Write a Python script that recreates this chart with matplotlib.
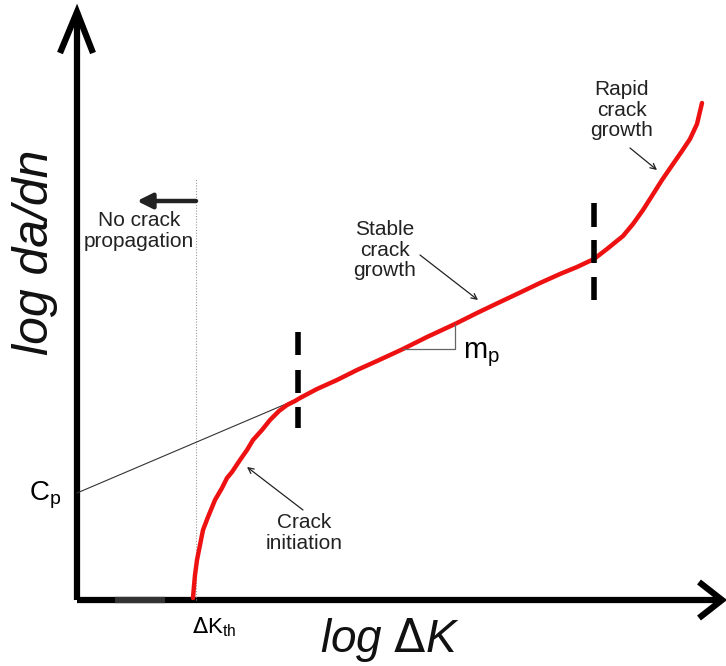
# Paris-law crack growth schematic (log da/dn vs log dK)
import matplotlib.pyplot as plt

plt.rcParams['font.family'] = ['Liberation Sans', 'DejaVu Sans']

# red crack growth curve (origin = axis corner, y up)
curve_x = [116, 117, 118, 120, 123, 126, 131, 138, 145, 150, 155, 163, 170,
           176, 185, 193, 202, 210, 218, 223, 240, 260, 280, 300, 326, 350,
           378, 400, 423, 440, 463, 483, 500, 517, 530, 546, 556, 566, 573,
           585, 596, 605, 613, 620, 625]
curve_y = [2, 14, 25, 40, 55, 70, 83, 100, 112, 122, 128, 140, 150,
           160, 170, 180, 189, 195, 199, 202, 211, 220, 230, 239, 251, 263,
           276, 287, 298, 306, 317, 326, 333, 341, 351, 364, 376, 390, 401,
           420, 436, 449, 461, 476, 497]

# tangent of the stable region, from Cp to where it meets the curve
tangent_x = [0, 223]
tangent_y = [107, 202]

# slope triangle under the stable part
tri_x = [326, 378, 378]
tri_y = [251, 251, 276]

dk_th = 119                  # threshold line position
region_marks = [221, 517]    # dashed dividers between regions
mark_dashes = [[(268, 245), (230, 207), (193, 172)],
               [(397, 373), (360, 337), (323, 300)]]

# region notes: text, text position, arrow start, arrow tip
notes = [('Stable\ncrack\ngrowth', (308, 350), (343, 345), (401, 300)),
         ('Crack\ninitiation', (227, 67), (226, 90), (170, 133)),
         ('Rapid\ncrack\ngrowth', (545, 490), (553, 452), (580, 430))]

fig = plt.figure(figsize=(7.26, 6.66), dpi=100)
ax = fig.add_axes([0, 0, 1, 1])
ax.set_xlim(-77, 649)
ax.set_ylim(-66, 600)
ax.axis('off')

# axes with open arrow heads
ax.plot([0, 0], [0, 588], color='black', lw=4.5, solid_capstyle='butt')
ax.plot([0, 645], [0, 0], color='black', lw=4.5, solid_capstyle='butt')
ax.plot([-17, 0, 16], [547, 588, 547], color='black', lw=4.5,
        solid_joinstyle='miter', solid_capstyle='butt')
ax.plot([622, 645, 622], [18, 0, -18], color='black', lw=4.5,
        solid_joinstyle='miter', solid_capstyle='butt')
ax.plot([38, 88], [0, 0], color='#333333', lw=4.5, solid_capstyle='butt')

# threshold dotted line and "no propagation" arrow
ax.plot([dk_th, dk_th], [0, 422], color='#999999', lw=0.8, ls=(0, (1, 1.5)))
ax.annotate('', xy=(60, 399), xytext=(dk_th, 399),
            arrowprops=dict(arrowstyle='-|>,head_length=0.9,head_width=0.45',
                            color='#222222', lw=3.2, shrinkA=0, shrinkB=0))
ax.text(62, 369, 'No crack\npropagation', ha='center', va='center',
        fontsize=15, color='#222222', linespacing=1.1)

# tangent line and curve
ax.plot(tangent_x, tangent_y, color='#333333', lw=0.8)
ax.plot(curve_x, curve_y, color='#ee1111', lw=3.2, solid_capstyle='round',
        solid_joinstyle='round')
ax.plot(tri_x, tri_y, color='#666666', lw=0.9)

# region dividers
for mx, dashes in zip(region_marks, mark_dashes):
    for y0, y1 in dashes:
        ax.plot([mx, mx], [y0, y1], color='black', lw=4,
                solid_capstyle='butt')

# labels
ax.text(-42, 348, 'log da/dn', rotation=90, ha='center', va='center',
        fontsize=36, style='italic', color='#111111')
ax.text(313, -40, r'log $\Delta$K', ha='center', va='center',
        fontsize=33, style='italic', color='#111111')
ax.text(-32, 105, r'C$_\mathregular{p}$', ha='center', va='center',
        fontsize=20, color='black')
ax.text(137, -27, r'$\Delta$K$_\mathregular{th}$', ha='center', va='center',
        fontsize=16, color='black')
ax.text(405, 245, r'm$_\mathregular{p}$', ha='center', va='center',
        fontsize=21, color='black')

for label, pos, start, tip in notes:
    ax.text(pos[0], pos[1], label, ha='center', va='center', fontsize=15,
            color='#222222', linespacing=1.1)
    ax.annotate('', xy=tip, xytext=start,
                arrowprops=dict(arrowstyle='->', color='#222222', lw=0.9,
                                shrinkA=0, shrinkB=0))

fig.savefig('out.png', dpi=100)
